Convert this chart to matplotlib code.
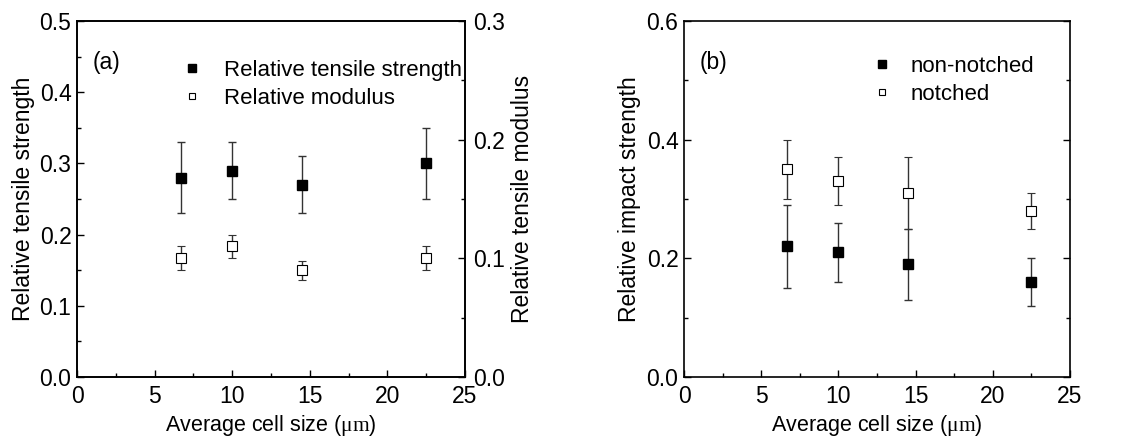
import matplotlib.pyplot as plt
from matplotlib.ticker import MultipleLocator

plt.rcParams['font.family'] = ['Liberation Sans', 'DejaVu Sans']
plt.rcParams['mathtext.fontset'] = 'custom'
plt.rcParams['mathtext.rm'] = 'Liberation Serif'
plt.rcParams['font.size'] = 16.5

# cell size (um)
cell_size = [6.7, 10.0, 14.5, 22.5]

# panel (a)
tensile = [0.28, 0.29, 0.27, 0.30]
tensile_err = [0.05, 0.04, 0.04, 0.05]
modulus = [0.10, 0.11, 0.09, 0.10]
modulus_err = [0.01, 0.01, 0.008, 0.01]

# panel (b)
non_notched = [0.22, 0.21, 0.19, 0.16]
non_notched_err = [0.07, 0.05, 0.06, 0.04]
notched = [0.35, 0.33, 0.31, 0.28]
notched_err = [0.05, 0.04, 0.06, 0.03]

xlabel = r'Average cell size ($\mathrm{\mu m}$)'

fig = plt.figure(figsize=(11.26, 4.36), dpi=100)
ax1 = fig.add_axes([0.0684, 0.1353, 0.3446, 0.8165])
ax2 = fig.add_axes([0.6075, 0.1353, 0.3428, 0.8165])

eb = dict(ecolor='#333333', elinewidth=1, capsize=3, capthick=1, linestyle='none')

# (a)
ax1b = ax1.twinx()
ax1.errorbar(cell_size, tensile, yerr=tensile_err, fmt='s', ms=7.5,
             mfc='black', mec='black', zorder=3, **eb)
ax1b.errorbar(cell_size, modulus, yerr=modulus_err, fmt='s', ms=7,
              mfc='white', mec='black', mew=0.8, zorder=3, **eb)
h1, = ax1.plot([], [], 's', ms=7.5, mfc='black', mec='black')
h2, = ax1.plot([], [], 's', ms=7, mfc='white', mec='black', mew=0.8)
ax1.legend([h1, h2], ['Relative tensile strength', 'Relative modulus'],
           loc='upper left', bbox_to_anchor=(0.245, 0.915), frameon=False,
           fontsize=16, markerscale=0.7, handletextpad=0.95, labelspacing=0.3,
           handlelength=1.0, borderaxespad=0)
ax1.text(0.04, 0.865, '(a)', transform=ax1.transAxes)

ax1.set_xlim(0, 25)
ax1.set_ylim(0, 0.5)
ax1b.set_ylim(0, 0.3)
ax1.xaxis.set_major_locator(MultipleLocator(5))
ax1.xaxis.set_minor_locator(MultipleLocator(2.5))
ax1.yaxis.set_major_locator(MultipleLocator(0.1))
ax1.yaxis.set_minor_locator(MultipleLocator(0.05))
ax1b.yaxis.set_major_locator(MultipleLocator(0.1))
ax1b.yaxis.set_minor_locator(MultipleLocator(0.05))
ax1.set_ylabel('Relative tensile strength', labelpad=3)
ax1b.set_ylabel('Relative tensile modulus', labelpad=4)
ax1.set_xlabel(xlabel, labelpad=3, fontsize=15.5)
ax1.yaxis.set_major_formatter(plt.FormatStrFormatter('%.1f'))
ax1b.yaxis.set_major_formatter(plt.FormatStrFormatter('%.1f'))

# (b)
ax2.errorbar(cell_size, non_notched, yerr=non_notched_err, fmt='s', ms=7.5,
             mfc='black', mec='black', zorder=3, **eb)
ax2.errorbar(cell_size, notched, yerr=notched_err, fmt='s', ms=7,
             mfc='white', mec='black', mew=0.8, zorder=3, **eb)
g1, = ax2.plot([], [], 's', ms=7.5, mfc='black', mec='black')
g2, = ax2.plot([], [], 's', ms=7, mfc='white', mec='black', mew=0.8)
ax2.legend([g1, g2], ['non-notched', 'notched'],
           loc='upper left', bbox_to_anchor=(0.462, 0.927), frameon=False,
           fontsize=16, markerscale=0.7, handletextpad=0.75, labelspacing=0.3,
           handlelength=1.0, borderaxespad=0)
ax2.text(0.04, 0.865, '(b)', transform=ax2.transAxes)

ax2.set_xlim(0, 25)
ax2.set_ylim(0, 0.6)
ax2.xaxis.set_major_locator(MultipleLocator(5))
ax2.xaxis.set_minor_locator(MultipleLocator(2.5))
ax2.yaxis.set_major_locator(MultipleLocator(0.2))
ax2.yaxis.set_minor_locator(MultipleLocator(0.1))
ax2.yaxis.set_major_formatter(plt.FormatStrFormatter('%.1f'))
ax2.set_ylabel('Relative impact strength', labelpad=4)
ax2.set_xlabel(xlabel, labelpad=3, fontsize=15.5)

for ax in (ax1, ax1b, ax2):
    for s in ax.spines.values():
        s.set_linewidth(1.2)
    ax.tick_params(which='both', direction='in', width=1)
    ax.tick_params(which='major', length=5, pad=4)
    ax.tick_params(which='minor', length=3)
    ax.tick_params(axis='x', pad=6)
ax1b.tick_params(axis='y', pad=6)
ax2.tick_params(which='both', right=True)

fig.savefig('out.png', dpi=100)
